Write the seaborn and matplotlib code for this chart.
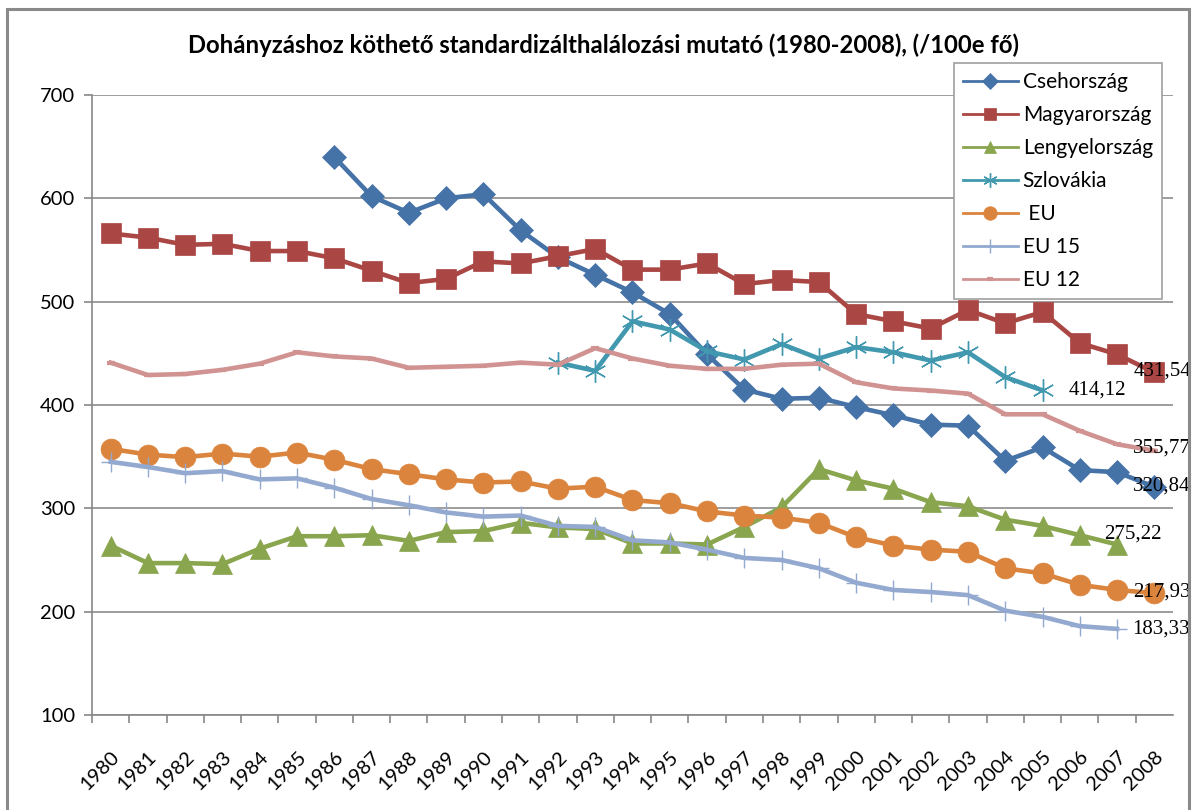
import matplotlib
matplotlib.use("Agg")
import pandas as pd
import matplotlib.pyplot as plt
from matplotlib.patches import Rectangle
import seaborn as sns

years = list(range(1980, 2009))

cseh = [None] * 6 + [640, 602, 586, 600, 604, 569, 543, 526, 509, 488, 449, 415, 406, 407,
                     398, 390, 381, 380, 346, 359, 337, 335, 320.84]
magyar = [566, 562, 555, 556, 549, 549, 542, 530, 518, 522, 539, 537, 544, 551,
          531, 531, 537, 517, 521, 519, 488, 481, 474, 492, 479, 490, 460, 449, 431.54]
lengyel = [264, 247, 247, 246, 261, 273, 273, 274, 268.5, 277, 278, 286, 281.5, 280,
           266, 266, 265, 282, 301, 338, 327, 319, 306, 302, 289, 283, 274, 265, None]
szlovak = [None] * 12 + [441, 433, 481, 473, 452, 444, 459, 445, 456, 451, 443, 451,
                         427, 414.12, None, None, None]
eu = [357.6, 352, 349.5, 353, 350, 354, 347, 338, 333, 328, 325, 326, 319, 321,
      308, 305, 297, 293, 291, 286, 272, 264, 260, 258, 242, 237, 226, 221, 217.93]
eu15 = [345, 340, 334, 336, 328, 329, 320, 309, 303, 296, 292, 293, 283, 282,
        269, 267, 260, 252, 250, 242, 228, 221, 219, 216, 201, 195, 186, 183.33, None]
eu12 = [441, 429, 430, 434, 440, 451, 447, 445, 436, 437, 438, 441, 439, 455,
        445, 438, 435, 435, 439, 440, 422, 416, 414, 411, 391, 391, 375, 362, 355.77]

series_names = ["Csehország", "Magyarország", "Lengyelország", "Szlovákia", " EU", "EU 15", "EU 12"]
series_values = [cseh, magyar, lengyel, szlovak, eu, eu15, eu12]

# end-of-line data labels as printed on the chart
label_texts = ["320,84", "431,54", "275,22", "414,12", "217,93", "183,33", "355,77"]

title = "Dohányzáshoz köthető standardizálthalálozási mutató (1980-2008), (/100e fő)"

rows = []
for name, vals in zip(series_names, series_values):
    for yr, v in zip(years, vals):
        rows.append({"year": yr, "value": v, "series": name})
df = pd.DataFrame(rows).dropna()

styles = {
    "Csehország":    dict(color="#4572A7", marker="D", markersize=12),
    "Magyarország":  dict(color="#AA4643", marker="s", markersize=14),
    "Lengyelország": dict(color="#89A54E", marker="^", markersize=14),
    "Szlovákia":     dict(color="#4198AF", marker=(6, 2, 0), markersize=16, markeredgewidth=1),
    " EU":           dict(color="#DB843D", marker="o", markersize=15),
    "EU 15":         dict(color="#93A9CF", marker="+", markersize=15, markeredgewidth=1),
    "EU 12":         dict(color="#D19392", marker="_", markersize=6, markeredgewidth=3),
}
label_offsets = [(-21, 1), (-21, 1), (-13, 10), (26, 0), (-21, 1), (15, 0), (-21, 3)]

fig = plt.figure(figsize=(11.92, 8.10), dpi=100)
ax = fig.add_axes([92 / 1192, 1 - 715 / 810, (1173 - 92) / 1192, (715 - 95) / 810])

for name in series_names:
    st = styles[name]
    sub = df[df["series"] == name]
    sns.lineplot(data=sub, x="year", y="value", ax=ax, color=st["color"], linewidth=3.3,
                 marker=st["marker"], markersize=st["markersize"],
                 markeredgewidth=st.get("markeredgewidth", 0.5),
                 markeredgecolor=st["color"], markerfacecolor=st["color"],
                 label=name, legend=False)

for name, txt, off in zip(series_names, label_texts, label_offsets):
    sub = df[df["series"] == name]
    last = sub.iloc[-1]
    ax.annotate(txt, (last["year"], last["value"]), xytext=off, textcoords="offset pixels",
                ha="left", va="center", fontsize=15, family="Liberation Serif", color="black")

ax.set_xlim(years[0] - 0.5, years[-1] + 0.5)
ax.set_ylim(100, 700)
ax.set_yticks(range(100, 701, 100))
ax.set_xticks(years)
ax.set_xticklabels([str(y) for y in years], rotation=45, ha="right", va="top",
                   rotation_mode="anchor", fontsize=14.5, family="Lato")
ax.set_xticks([y + 0.5 for y in years[:-1]] + [years[0] - 0.5], minor=True)
ax.tick_params(axis="x", which="major", length=0, pad=24)
ax.tick_params(axis="x", which="minor", length=6, color="#888888", width=1.2)
ax.tick_params(axis="y", length=6, color="#888888", width=1.2, pad=6, labelsize=14.5)
for lab in ax.get_yticklabels():
    lab.set_family("Lato")
ax.set_xlabel("")
ax.set_ylabel("")
ax.grid(axis="y", color="#8c8c8c", linewidth=1.2)
ax.set_axisbelow(True)
for s in ["top", "right"]:
    ax.spines[s].set_visible(False)
for s in ["left", "bottom"]:
    ax.spines[s].set_color("#888888")
    ax.spines[s].set_linewidth(1.2)

fig.text(604 / 1192, 1 - 45 / 810, title, ha="center", va="center", fontsize=17.2,
         fontweight="bold", family="Lato")

leg = ax.legend(loc="upper left", bbox_to_anchor=(954 / 1192, 1 - 63 / 810),
                bbox_transform=fig.transFigure, prop={"family": "Lato", "size": 15},
                frameon=True, fancybox=False, edgecolor="#a0a0a0", facecolor="white",
                framealpha=1, markerscale=0.65, handlelength=2.6, handletextpad=0.25,
                labelspacing=0.62, borderpad=0.45, borderaxespad=0)
leg.get_frame().set_linewidth(1.2)
for h in leg.get_lines():
    h.set_linewidth(2)

fig.patches.append(Rectangle((7 / 1192, -0.01), (1189 - 7) / 1192, 1.01 - 9 / 810,
                             transform=fig.transFigure, fill=False, edgecolor="#8a8a8a",
                             linewidth=2.2, clip_on=False))

fig.savefig("out.png", dpi=100)
